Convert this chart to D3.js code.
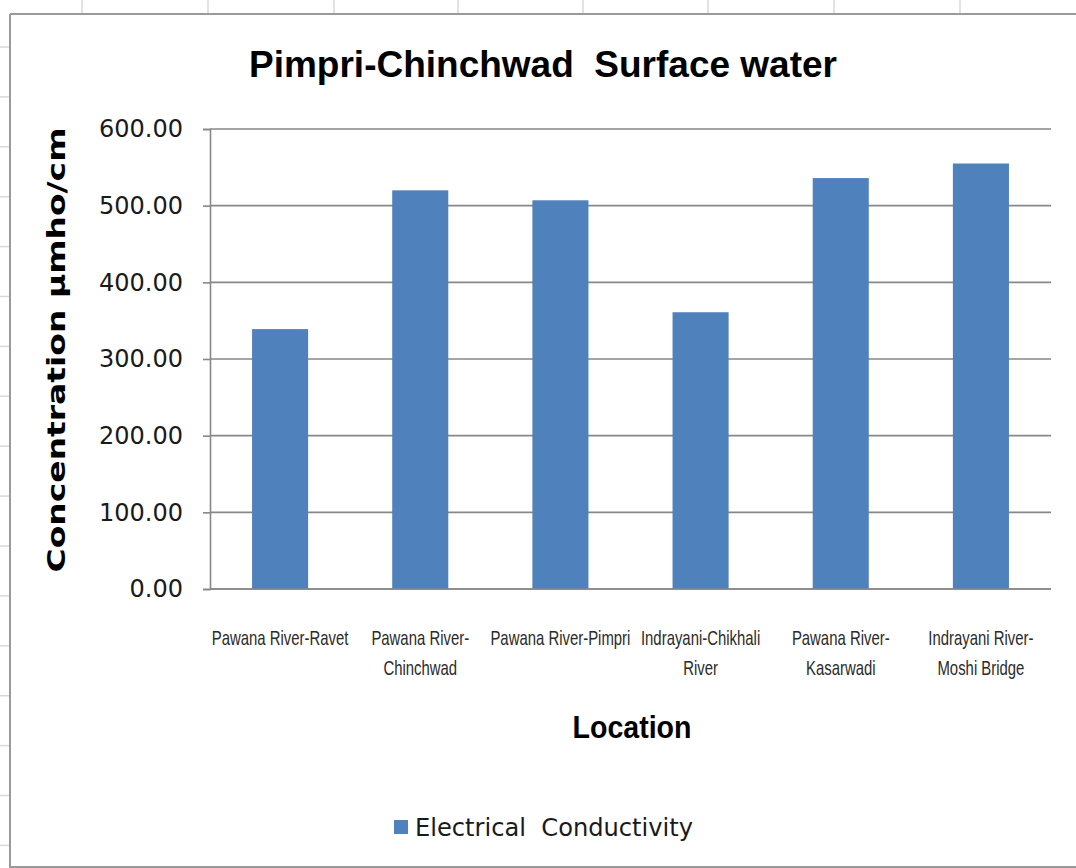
<!DOCTYPE html>
<html>
<head>
<meta charset="utf-8">
<script src="https://cdn.jsdelivr.net/npm/d3@7"></script>
<style>
  html, body { margin: 0; padding: 0; background: #ffffff; }
  svg { display: block; }
</style>
</head>
<body>
<svg id="chart" width="1076" height="868"></svg>
<script>
const categories = [
  "Pawana River-Ravet",
  "Pawana River-Chinchwad",
  "Pawana River-Pimpri",
  "Indrayani-Chikhali River",
  "Pawana River-Kasarwadi",
  "Indrayani River-Moshi Bridge"
];
const categoryLines = [
  ["Pawana River-Ravet"],
  ["Pawana River-", "Chinchwad"],
  ["Pawana River-Pimpri"],
  ["Indrayani-Chikhali", "River"],
  ["Pawana River-", "Kasarwadi"],
  ["Indrayani River-", "Moshi Bridge"]
];
const conductivity = [339, 520, 507, 361, 536, 555];
const yTicks = [0, 100, 200, 300, 400, 500, 600];
const seriesName = "Electrical  Conductivity";
const chartTitle = "Pimpri-Chinchwad  Surface water";
const xTitle = "Location";
const yTitle = "Concentration µmho/cm";

const svg = d3.select("#chart");
const W = 1076, H = 868;

// spreadsheet background grid outside chart
const sheet = svg.append("g").attr("stroke", "#d9d9d9").attr("stroke-width", 1.5);
[82, 208, 334, 458, 583, 708, 834, 960].forEach(x => {
  sheet.append("line").attr("x1", x).attr("x2", x).attr("y1", 0).attr("y2", 13);
});
for (let y = 47; y < H; y += 49.9) {
  sheet.append("line").attr("x1", 0).attr("x2", 9).attr("y1", y).attr("y2", y);
}

// chart area border
const border = svg.append("g").attr("stroke", "#9a9a9a").attr("stroke-width", 2).attr("fill", "none");
border.append("line").attr("x1", 10).attr("x2", W).attr("y1", 14).attr("y2", 14);
border.append("line").attr("x1", 10).attr("x2", 10).attr("y1", 14).attr("y2", H);
border.append("line").attr("x1", 10).attr("x2", W).attr("y1", 867).attr("y2", 867);

const plot = { left: 210, right: 1051, top: 129, bottom: 589 };

const x = d3.scaleBand()
  .domain(categories)
  .range([plot.left, plot.right])
  .paddingInner(0.6)
  .paddingOuter(0.3);

const y = d3.scaleLinear()
  .domain([0, 600])
  .range([plot.bottom, plot.top]);

// gridlines
svg.append("g")
  .selectAll("line")
  .data(yTicks)
  .join("line")
  .attr("x1", plot.left)
  .attr("x2", plot.right)
  .attr("y1", d => y(d))
  .attr("y2", d => y(d))
  .attr("stroke", "#878787")
  .attr("stroke-width", 1.6);

// bars
svg.append("g")
  .selectAll("rect")
  .data(conductivity)
  .join("rect")
  .attr("x", (d, i) => x(categories[i]))
  .attr("width", x.bandwidth())
  .attr("y", d => y(d))
  .attr("height", d => y(0) - y(d))
  .attr("fill", "#4f81bd");

// y axis
const yAxis = d3.axisLeft(y)
  .tickValues(yTicks)
  .tickFormat(d3.format(".2f"))
  .tickSize(7)
  .tickPadding(20);
const yg = svg.append("g")
  .attr("transform", `translate(${plot.left},0)`)
  .call(yAxis);
yg.select(".domain").attr("stroke", "#878787").attr("stroke-width", 1.6);
yg.selectAll(".tick line").attr("stroke", "#878787").attr("stroke-width", 1.6);
yg.selectAll(".tick text")
  .attr("font-family", "DejaVu Sans, Verdana, sans-serif")
  .attr("font-size", 24)
  .attr("fill", "#1a1a1a");

// x axis baseline
svg.append("line")
  .attr("x1", plot.left).attr("x2", plot.right)
  .attr("y1", y(0)).attr("y2", y(0))
  .attr("stroke", "#878787").attr("stroke-width", 1.6);

// x category labels
const xl = svg.append("g");
categoryLines.forEach((lines, i) => {
  const cx = x(categories[i]) + x.bandwidth() / 2;
  lines.forEach((ln, j) => {
    xl.append("text")
      .attr("transform", `translate(${cx},${645 + j * 30}) scale(0.71,1)`)
      .attr("text-anchor", "middle")
      .attr("font-family", "Liberation Sans, Arial, sans-serif")
      .attr("font-size", 21)
      .attr("fill", "#2b2b2b")
      .text(ln);
  });
});

// title
svg.append("text")
  .attr("x", 543)
  .attr("y", 77)
  .attr("text-anchor", "middle")
  .attr("font-family", "Liberation Sans, Arial, sans-serif")
  .attr("font-weight", "bold")
  .attr("font-size", 36)
  .attr("textLength", 588)
  .attr("lengthAdjust", "spacingAndGlyphs")
  .style("white-space", "pre")
  .attr("fill", "#000")
  .text(chartTitle);

// x axis title
svg.append("text")
  .attr("x", 632)
  .attr("y", 738)
  .attr("text-anchor", "middle")
  .attr("font-family", "Liberation Sans, Arial, sans-serif")
  .attr("font-weight", "bold")
  .attr("font-size", 31)
  .attr("textLength", 119)
  .attr("lengthAdjust", "spacingAndGlyphs")
  .attr("fill", "#000")
  .text(xTitle);

// y axis title
svg.append("text")
  .attr("transform", "translate(65,350) rotate(-90)")
  .attr("text-anchor", "middle")
  .attr("font-family", "DejaVu Sans, Verdana, sans-serif")
  .attr("font-weight", "bold")
  .attr("font-size", 25)
  .attr("textLength", 445)
  .attr("lengthAdjust", "spacingAndGlyphs")
  .attr("fill", "#000")
  .text(yTitle);

// legend
const lg = svg.append("g");
lg.append("rect")
  .attr("x", 394).attr("y", 820).attr("width", 14).attr("height", 14)
  .attr("fill", "#4f81bd");
lg.append("text")
  .attr("x", 415)
  .attr("y", 836)
  .attr("font-family", "DejaVu Sans, Verdana, sans-serif")
  .attr("font-size", 25)
  .attr("textLength", 278)
  .attr("lengthAdjust", "spacingAndGlyphs")
  .style("white-space", "pre")
  .attr("fill", "#1a1a1a")
  .text(seriesName);
</script>
</body>
</html>
